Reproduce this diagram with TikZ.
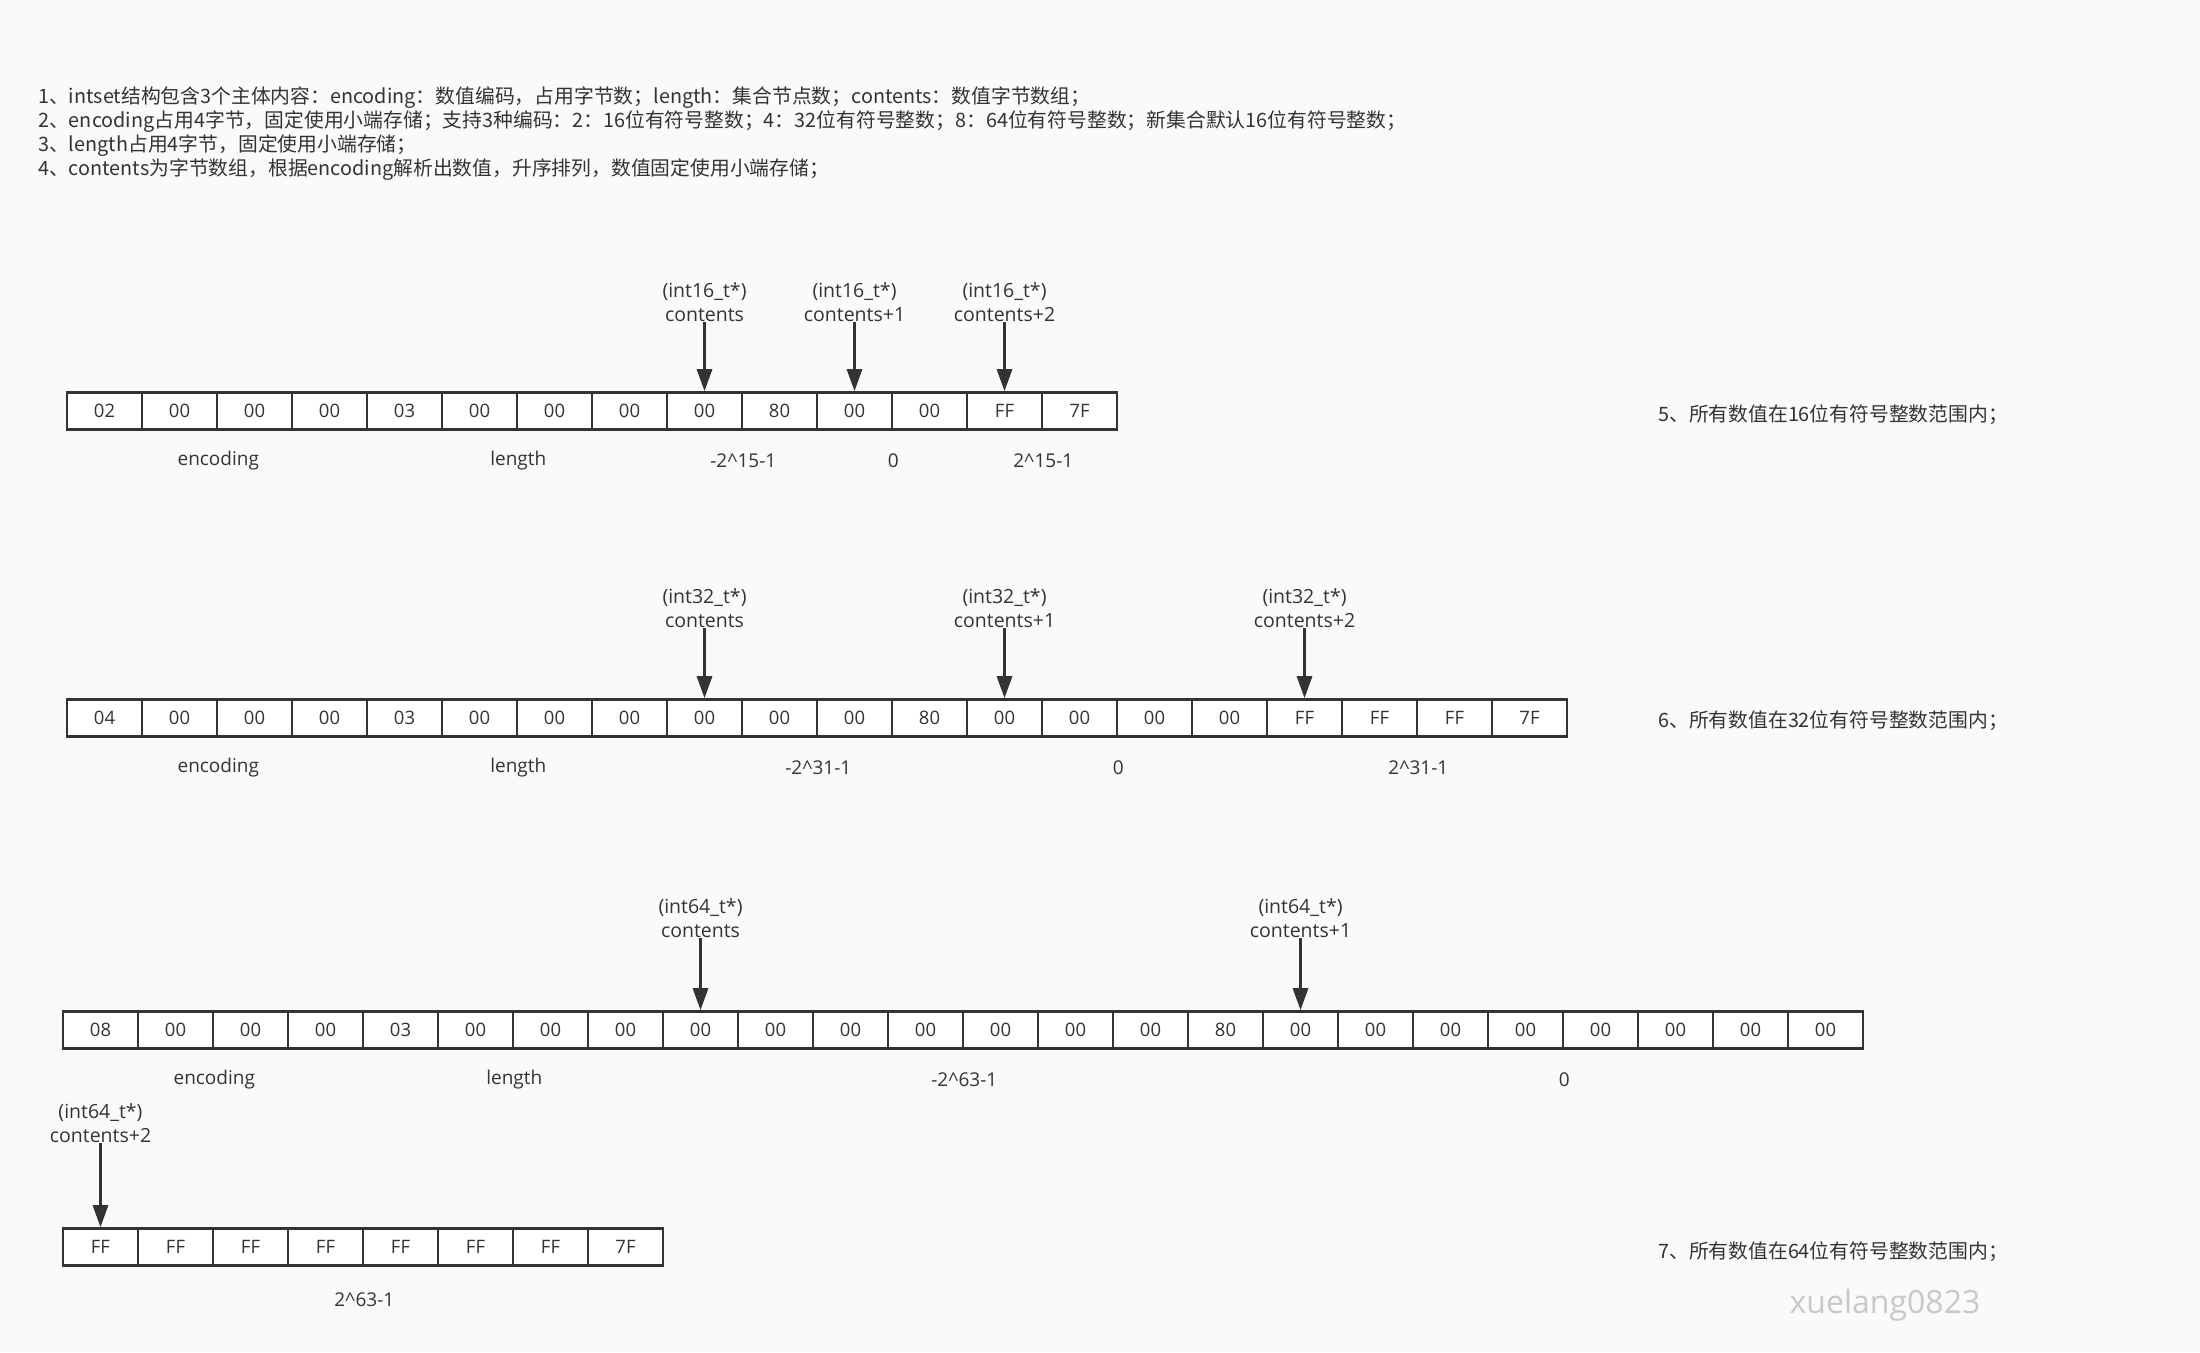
\documentclass[tikz,border=0pt]{standalone}
\usepackage{fontspec}
\setmainfont{Open Sans}
\newfontfamily\cjk{Noto Sans CJK SC}
\usetikzlibrary{arrows.meta,positioning}
\definecolor{bgcol}{HTML}{FAFAFA}
\definecolor{ink}{HTML}{333333}
\definecolor{wmark}{HTML}{C8C8C8}

\tikzset{
  cell/.style={draw=ink, fill=white, line width=2.6pt, minimum width=75pt, minimum height=37pt, inner sep=0pt, text=ink, font=\fontsize{18.5}{18.5}\selectfont},
  ptrlbl/.style={align=center, inner sep=0pt, text=ink, font=\fontsize{19.5}{24}\selectfont},
  ptr/.style={draw=ink, line width=3pt, -{Triangle[length=22pt,width=15pt]}},
  lbl/.style={text=ink, font=\fontsize{19}{19}\selectfont},
  note/.style={anchor=west, inner sep=0pt, text=ink, font=\cjk\fontsize{19.8}{24}\selectfont}
}

\begin{document}
\begin{tikzpicture}[x=1pt,y=-1pt]
    \fill[bgcol] (0,0) rectangle (2200,1352);
    \useasboundingbox (0,0) rectangle (2200,1352);

    \node[note] (n1) at (38,98) {1、intset结构包含3个主体内容：encoding：数值编码，占用字节数；length：集合节点数；contents：数值字节数组；};
    \node[note] (n2) at (38,122) {2、encoding占用4字节，固定使用小端存储；支持3种编码：2：16位有符号整数；4：32位有符号整数；8：64位有符号整数；新集合默认16位有符号整数；};
    \node[note] (n3) at (38,146) {3、length占用4字节，固定使用小端存储；};
    \node[note] (n4) at (38,170) {4、contents为字节数组，根据encoding解析出数值，升序排列，数值固定使用小端存储；};

    \foreach \v [count=\i from 0] in {02,00,00,00,03,00,00,00,00,80,00,00,FF,7F}
        \node[cell] (a\i) at (104.5+75*\i,411) {\v};
    \foreach \c/\t in {8/contents,10/contents+1,12/contents+2} {
        \node[ptrlbl, above=69pt of a\c] (pa\c) {(int16\_t*)\\\t};
        \draw[ptr] (pa\c.south) -- (a\c.north);
    }
    \node[lbl] (ea) at ([yshift=-30pt]a1.south east) {encoding};
    \node[lbl] (la) at ([yshift=-30pt]a5.south east) {length};
    \node[lbl] (va0) at ([yshift=-30pt]a8.south east) {-2\textasciicircum15-1};
    \node[lbl] (va1) at ([yshift=-30pt]a10.south east) {0};
    \node[lbl] (va2) at ([yshift=-30pt]a12.south east) {2\textasciicircum15-1};
    \node[note] (ra) at (1658,415) {5、所有数值在16位有符号整数范围内；};

    \foreach \v [count=\i from 0] in {04,00,00,00,03,00,00,00,00,00,00,80,00,00,00,00,FF,FF,FF,7F}
        \node[cell] (b\i) at (104.5+75*\i,718) {\v};
    \foreach \c/\t in {8/contents,12/contents+1,16/contents+2} {
        \node[ptrlbl, above=70pt of b\c] (pb\c) {(int32\_t*)\\\t};
        \draw[ptr] (pb\c.south) -- (b\c.north);
    }
    \node[lbl] (eb) at ([yshift=-30pt]b1.south east) {encoding};
    \node[lbl] (lb) at ([yshift=-30pt]b5.south east) {length};
    \node[lbl] (vb0) at ([yshift=-30pt]b9.south east) {-2\textasciicircum31-1};
    \node[lbl] (vb1) at ([yshift=-30pt]b13.south east) {0};
    \node[lbl] (vb2) at ([yshift=-30pt]b17.south east) {2\textasciicircum31-1};
    \node[note] (rb) at (1658,721) {6、所有数值在32位有符号整数范围内；};

    \foreach \v [count=\i from 0] in {08,00,00,00,03,00,00,00,00,00,00,00,00,00,00,80,00,00,00,00,00,00,00,00}
        \node[cell] (c\i) at (100.5+75*\i,1030) {\v};
    \foreach \c/\t in {8/contents,16/contents+1} {
        \node[ptrlbl, above=72pt of c\c] (pc\c) {(int64\_t*)\\\t};
        \draw[ptr] (pc\c.south) -- (c\c.north);
    }
    \node[lbl] (ec) at ([yshift=-30pt]c1.south east) {encoding};
    \node[lbl] (lc) at ([yshift=-30pt]c5.south east) {length};
    \node[lbl] (vc0) at ([yshift=-30pt]c11.south east) {-2\textasciicircum63-1};
    \node[lbl] (vc1) at ([yshift=-30pt]c19.south east) {0};

    \foreach \v [count=\i from 0] in {FF,FF,FF,FF,FF,FF,FF,7F}
        \node[cell] (d\i) at (100.5+75*\i,1247) {\v};
    \node[ptrlbl, above=84pt of d0] (pd0) {(int64\_t*)\\contents+2};
    \draw[ptr] (pd0.south) -- (d0.north);
    \node[lbl] (vd0) at ([yshift=-33pt]d3.south east) {2\textasciicircum63-1};
    \node[note] (rc) at (1658,1252) {7、所有数值在64位有符号整数范围内；};

    \node[text=wmark, font=\fontsize{32}{32}\selectfont] (wm) at (1885,1305) {xuelang0823};
\end{tikzpicture}
\end{document}
